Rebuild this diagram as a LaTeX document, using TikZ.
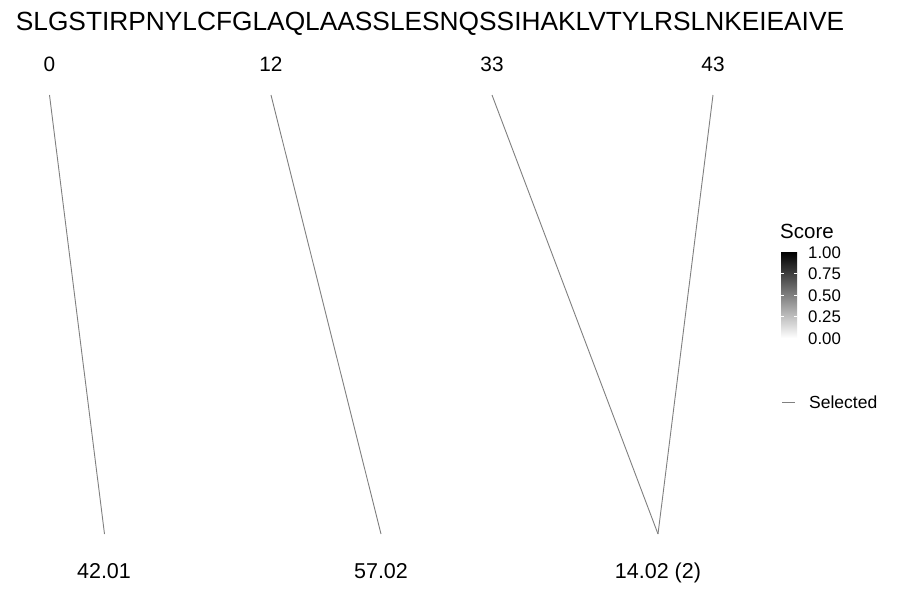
\documentclass[tikz,border=0pt]{standalone}
\usepackage{fontspec}
\setmainfont{Liberation Sans}
\begin{document}
\begin{tikzpicture}[x=1pt,y=-1pt,
  conn/.style={draw=gray, line width=0.9pt},
  seqtext/.style={font=\fontsize{26.3}{30}\selectfont, inner sep=0pt, anchor=base},
  toplab/.style={font=\fontsize{20.8}{24}\selectfont, inner sep=0pt, anchor=base},
  botlab/.style={font=\fontsize{21.5}{24}\selectfont, inner sep=0pt, anchor=base},
  legtitle/.style={font=\fontsize{20.5}{22}\selectfont, inner sep=0pt, anchor=base west},
  legtick/.style={font=\fontsize{16.8}{19}\selectfont, inner sep=0pt, anchor=west},
  legsel/.style={font=\fontsize{17.5}{19}\selectfont, inner sep=0pt, anchor=west},
  tickmark/.style={draw=white, line width=0.5pt}]
\useasboundingbox (0,0) rectangle (900,600);
\fill[white] (0,0) rectangle (900,600);
% sequence
\node[seqtext] (seq) at (430,30) {SLGSTIRPNYLCFGLAQLAASSLESNQSSIHAKLVTYLRSLNKEIEAIVE};
% top labels
\node[toplab] (l0) at (49.5,71.5) {0};
\node[toplab] (l12) at (271,71.5) {12};
\node[toplab] (l33) at (492,71.5) {33};
\node[toplab] (l43) at (713,71.5) {43};
% bottom labels
\node[botlab] (m1) at (104,578) {42.01};
\node[botlab] (m2) at (381,578) {57.02};
\node[botlab] (m3) at (658,578) {14.02 (2)};
% connector end points
\coordinate (t0) at (49.5,95);
\coordinate (t1) at (271,95);
\coordinate (t2) at (492,95);
\coordinate (t3) at (713,95);
\coordinate (b0) at (104.5,534);
\coordinate (b1) at (381,534);
\coordinate (b2) at (658,534);
\draw[conn] (t0) -- (b0);
\draw[conn] (t1) -- (b1);
\draw[conn] (t2) -- (b2);
\draw[conn] (t3) -- (b2);
% legend: score colour bar
\node[legtitle] (stitle) at (780,238) {Score};
\shade[top color=black, bottom color=white, middle color=gray] (781,252) rectangle (797,338);
\foreach \yy in {273.5,295,316.5} {
  \draw[tickmark] (781,\yy) -- (784,\yy);
  \draw[tickmark] (794,\yy) -- (797,\yy);
}
\node[legtick] (s100) at (808,252.5) {1.00};
\node[legtick] (s075) at (808,274) {0.75};
\node[legtick] (s050) at (808,295.5) {0.50};
\node[legtick] (s025) at (808,317) {0.25};
\node[legtick] (s000) at (808,338.5) {0.00};
% legend: selected
\coordinate (k0) at (782,402);
\coordinate (k1) at (795,402);
\draw[conn] (k0) -- (k1);
\node[legsel] (sel) at (809,402.5) {Selected};
\end{tikzpicture}
\end{document}
